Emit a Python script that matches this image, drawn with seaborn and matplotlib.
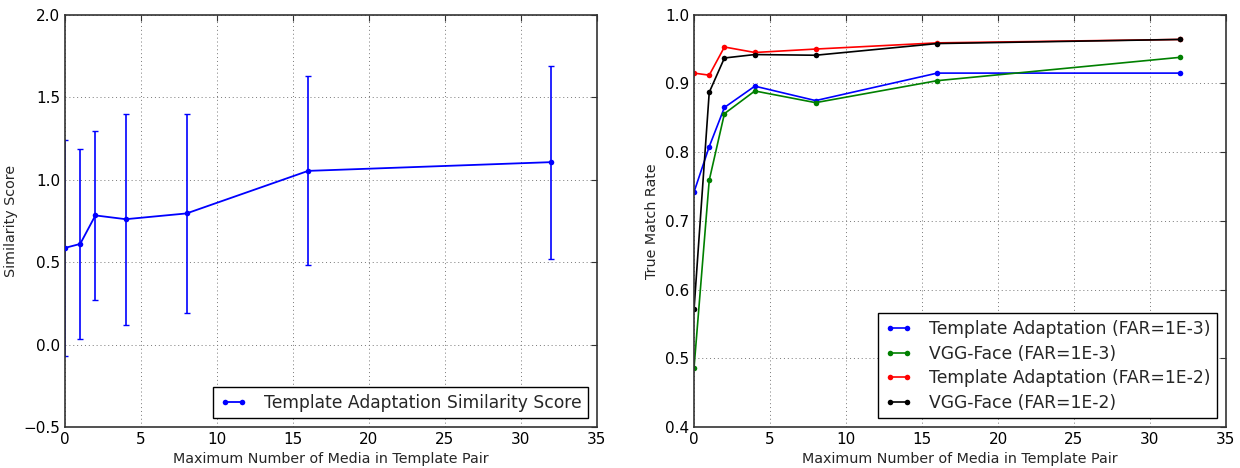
import numpy as np
import pandas as pd
import matplotlib
matplotlib.use("Agg")
import matplotlib.pyplot as plt
import seaborn as sns

# Maximum number of media in a template pair
media = [0, 1, 2, 4, 8, 16, 32]

# Similarity score: mean and standard deviation per media count
sim_mean = [0.586, 0.61, 0.783, 0.76, 0.795, 1.053, 1.106]
sim_std = [0.655, 0.575, 0.51, 0.64, 0.605, 0.573, 0.585]

# True match rate per method and false accept rate
ta_far3 = [0.742, 0.808, 0.865, 0.896, 0.875, 0.915, 0.915]
vgg_far3 = [0.486, 0.759, 0.856, 0.889, 0.872, 0.904, 0.938]
ta_far2 = [0.915, 0.912, 0.953, 0.945, 0.950, 0.959, 0.964]
vgg_far2 = [0.571, 0.887, 0.937, 0.942, 0.941, 0.958, 0.964]

series_names = [
    "Template Adaptation (FAR=1E-3)",
    "VGG-Face (FAR=1E-3)",
    "Template Adaptation (FAR=1E-2)",
    "VGG-Face (FAR=1E-2)",
]
series_colors = ["#0000ff", "#008000", "#ff0000", "#000000"]

sns.set_style("white")
plt.rcParams["font.family"] = ["DejaVu Sans"]

fig = plt.figure(figsize=(12.4, 4.68), dpi=100)
ax1 = fig.add_axes([0.0524, 0.0876, 0.429, 0.881])
ax2 = fig.add_axes([0.5597, 0.0876, 0.429, 0.881])

tick_fs = 11
label_fs = 10.3
legend_fs = 12.3
spine_col = "#333333"


def style_axes(ax):
    ax.grid(True, linestyle=(0, (1, 3)), color="#777777", linewidth=0.7)
    ax.tick_params(direction="in", top=True, right=True, length=4,
                   width=0.8, labelsize=tick_fs, colors=spine_col,
                   labelcolor="black")
    for s in ax.spines.values():
        s.set_visible(True)
        s.set_color(spine_col)
        s.set_linewidth(1.2)
    ax.set_xlim(0, 35)
    ax.set_xticks(range(0, 36, 5))
    ax.set_xlabel("Maximum Number of Media in Template Pair",
                  fontsize=label_fs)


def boxed_legend(ax, handles=None, labels=None):
    kw = dict(loc="lower right", fontsize=legend_fs, fancybox=False,
              framealpha=1, edgecolor="black", numpoints=2,
              handlelength=1.6, handletextpad=1.0, borderpad=0.4,
              labelspacing=0.38)
    if handles is None:
        leg = ax.legend(**kw)
    else:
        leg = ax.legend(handles, labels, **kw)
    leg.get_frame().set_linewidth(1.0)
    return leg


# Left panel: similarity score with standard-deviation bars
sim_df = pd.DataFrame({"media": media, "score": sim_mean, "std": sim_std})
ax1.errorbar(sim_df["media"], sim_df["score"], yerr=sim_df["std"],
             fmt="none", ecolor="#0000ff", elinewidth=1.2, capsize=2.5,
             capthick=1.0, zorder=2)
sns.lineplot(data=sim_df, x="media", y="score", ax=ax1, color="#0000ff",
             marker="o", markersize=4, markeredgewidth=0, linewidth=1.3,
             label="Template Adaptation Similarity Score", zorder=3)
style_axes(ax1)
ax1.set_ylim(-0.5, 2.0)
ax1.set_yticks(np.arange(-0.5, 2.01, 0.5))
ax1.set_yticklabels(["\u22120.5", "0.0", "0.5", "1.0", "1.5", "2.0"])
ax1.set_ylabel("Similarity Score", fontsize=label_fs)
boxed_legend(ax1)

# Right panel: true match rate for each method
tmr_df = pd.DataFrame({
    "media": media * 4,
    "rate": ta_far3 + vgg_far3 + ta_far2 + vgg_far2,
    "series": [n for n in series_names for _ in media],
})
sns.lineplot(data=tmr_df, x="media", y="rate", hue="series",
             hue_order=series_names,
             palette=dict(zip(series_names, series_colors)),
             ax=ax2, marker="o", markersize=4, markeredgewidth=0,
             linewidth=1.2)
style_axes(ax2)
ax2.set_ylim(0.4, 1.0)
ax2.set_yticks(np.arange(0.4, 1.001, 0.1))
ax2.set_yticklabels([f"{v:.1f}" for v in np.arange(0.4, 1.001, 0.1)])
ax2.set_ylabel("True Match Rate", fontsize=label_fs)
handles, labels = ax2.get_legend_handles_labels()
boxed_legend(ax2, handles, labels)

fig.savefig("out.png", dpi=100, facecolor="white")
